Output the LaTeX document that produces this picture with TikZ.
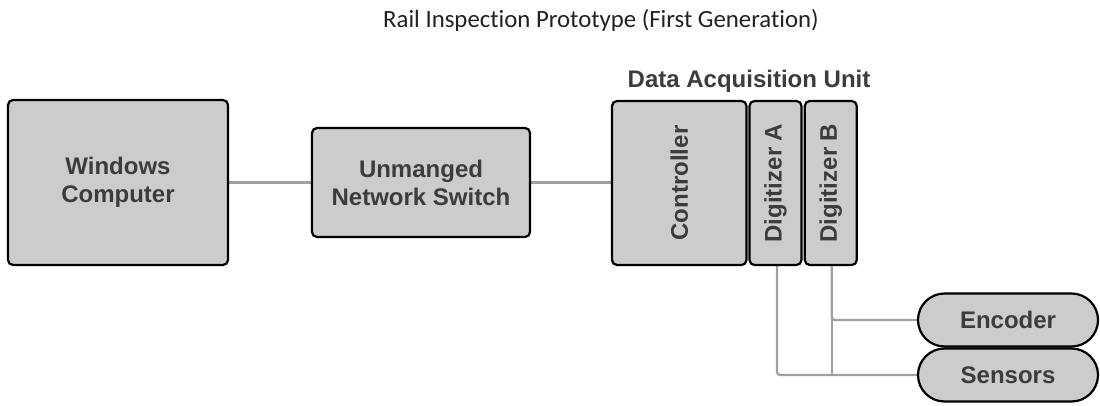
\documentclass[tikz,border=0pt]{standalone}
\usepackage{fontspec}
\usepackage{graphicx}
\usetikzlibrary{backgrounds}
\setmainfont{Liberation Sans}
\newfontfamily\titlefont[Ligatures=NoCommon]{Carlito}
\definecolor{boxfill}{HTML}{CCCCCC}
\definecolor{boxtext}{HTML}{3C3C3C}
\definecolor{wire}{HTML}{A0A0A0}
\definecolor{titletext}{HTML}{222222}

\begin{document}
\begin{tikzpicture}[x=1pt,y=-1pt,
  unitbox/.style={draw=black, line width=2.2pt, fill=boxfill, rounded corners=5pt,
    inner sep=0pt, text=boxtext, align=center,
    font=\bfseries\fontsize{24}{28}\selectfont},
  pill/.style={unitbox, rounded corners=26.5pt, minimum width=180pt, minimum height=53pt},
  wireline/.style={draw=wire, line width=2.2pt, rounded corners=3pt},
  heading/.style={anchor=base, inner sep=0pt}
]
\useasboundingbox (0,0) rectangle (1100,406);

% headings
\node[heading, text=titletext, font=\titlefont\fontsize{24.8}{28}\selectfont]
  (title) at (601,28) {Rail Inspection Prototype (First Generation)};
\node[heading, text=boxtext, font=\bfseries\fontsize{24}{28}\selectfont]
  (daqlabel) at (749,88) {Data Acquisition Unit};

% main blocks
\node[unitbox, minimum width=220pt, minimum height=165pt] (pc) at (118,182.5) {Windows\\Computer};
\node[unitbox, minimum width=218pt, minimum height=109pt] (switch) at (421,182.5) {Unmanged\\Network Switch};

% data acquisition unit
\node[unitbox, minimum width=134.5pt, minimum height=164pt] (ctrl) at (679.25,183) {\rotatebox{90}{Controller}};
\node[unitbox, minimum width=52pt, minimum height=164pt] (digA) at (775.5,183) {\rotatebox{90}{Digitizer A}};
\node[unitbox, minimum width=52pt, minimum height=164pt] (digB) at (830.75,183) {\rotatebox{90}{Digitizer B}};

% field devices
\node[pill] (enc) at (1008,320) {Encoder};
\node[pill] (sens) at (1008,375) {Sensors};

% wiring, kept behind the blocks
\begin{scope}[on background layer]
  \draw[wireline] (pc.east) -- (switch.west);
  \draw[wireline] (switch.east) -- (switch.east -| ctrl.west);
  \draw[wireline] ([xshift=1.5pt]digA.south) |- (sens.west);
  \draw[wireline] ([xshift=1pt]digB.south) |- (enc.west);
  \draw[wireline] ([xshift=1pt]digB.south) -- ([xshift=1pt]digB.south |- sens.west);
\end{scope}
\end{tikzpicture}
\end{document}
